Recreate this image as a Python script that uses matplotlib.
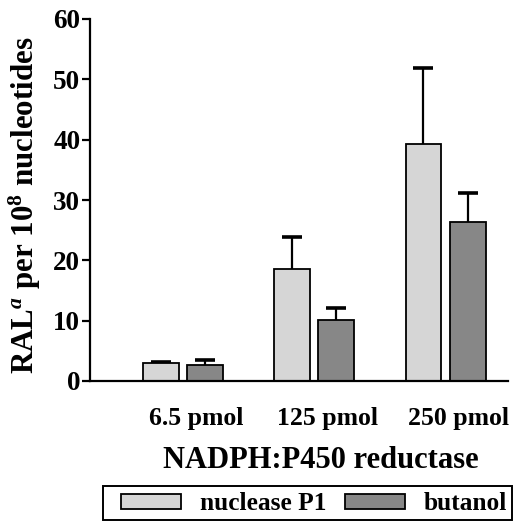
import matplotlib
matplotlib.use("Agg")
import matplotlib.pyplot as plt
from matplotlib.patches import Rectangle
import numpy as np

categories = ["6.5 pmol", "125 pmol", "250 pmol"]
series_names = ["nuclease P1", "butanol"]
nuclease_p1 = [3.0, 18.6, 39.3]
nuclease_p1_err = [0.2, 5.2, 12.6]
butanol = [2.6, 10.1, 26.3]
butanol_err = [0.8, 2.0, 4.8]
yticks = [0, 10, 20, 30, 40, 50, 60]

plt.rcParams['font.family'] = ['Liberation Serif', 'DejaVu Serif']
plt.rcParams['font.weight'] = 'bold'
plt.rcParams['mathtext.fontset'] = 'custom'
plt.rcParams['mathtext.rm'] = 'Liberation Serif:bold'
plt.rcParams['mathtext.bf'] = 'Liberation Serif:bold'
plt.rcParams['mathtext.it'] = 'Liberation Serif:italic'

W, H = 520, 524
fig = plt.figure(figsize=(W / 100, H / 100), dpi=100)
ax = fig.add_axes([90 / W, 1 - 381 / H, (508 - 90) / W, (381 - 19) / H])

x = np.arange(len(categories))
bw = 0.274
off = 0.168
light = '#d6d6d6'
dark = '#878787'
ekw = dict(elinewidth=1.6, capthick=2.6, ecolor='black')
b1 = ax.bar(x - off, nuclease_p1, bw, color=light, edgecolor='black', linewidth=1.3,
            label=series_names[0], zorder=2)
e1 = ax.errorbar(x - off, nuclease_p1, yerr=[np.zeros(3), nuclease_p1_err], fmt='none',
                 capsize=7, zorder=1, **ekw)
b2 = ax.bar(x + off, butanol, bw, color=dark, edgecolor='black', linewidth=1.3,
            label=series_names[1], zorder=2)
e2 = ax.errorbar(x + off, butanol, yerr=[np.zeros(3), butanol_err], fmt='none',
                 capsize=7, zorder=1, **ekw)
for e in (e1, e2):
    e[1][0].set_visible(False)

ax.set_xlim(-0.709, 2.476)
ax.set_ylim(0, 60)
ax.set_yticks(yticks)
ax.set_yticklabels([str(v) for v in yticks], fontsize=19.5, fontweight='bold')
ax.set_xticks(x + 0.1)
ax.set_xticklabels(categories, fontsize=18.5, fontweight='bold')
ax.tick_params(axis='x', length=0, pad=19)
ax.tick_params(axis='y', length=6, width=1.6, pad=1)
for s in ['top', 'right']:
    ax.spines[s].set_visible(False)
for s in ['left', 'bottom']:
    ax.spines[s].set_linewidth(1.6)

fig.text(321 / W, 1 - 461 / H, "NADPH:P450 reductase", ha='center', va='center',
         fontsize=22, fontweight='bold')
fig.text(25 / W, 1 - 205 / H, r"RAL$^{a}$ per 10$^{8}$ nucleotides", rotation=90,
         ha='center', va='center', fontsize=22.3, fontweight='bold')

leg = fig.legend(handles=[b1, b2], labels=series_names, ncol=2, loc='center left',
                 bbox_to_anchor=(121 / W, 1 - 504 / H),
                 handlelength=2.36, handleheight=0.58, handletextpad=0.75,
                 columnspacing=0.72, borderpad=0, borderaxespad=0,
                 frameon=False, prop={'weight': 'bold', 'size': 18.3})
fig.patches.append(Rectangle((103 / W, 1 - 520 / H), (512 - 103) / W, (520 - 486) / H,
                             transform=fig.transFigure, fill=False, edgecolor='black',
                             linewidth=1.4))

fig.savefig("out.png", dpi=100)
